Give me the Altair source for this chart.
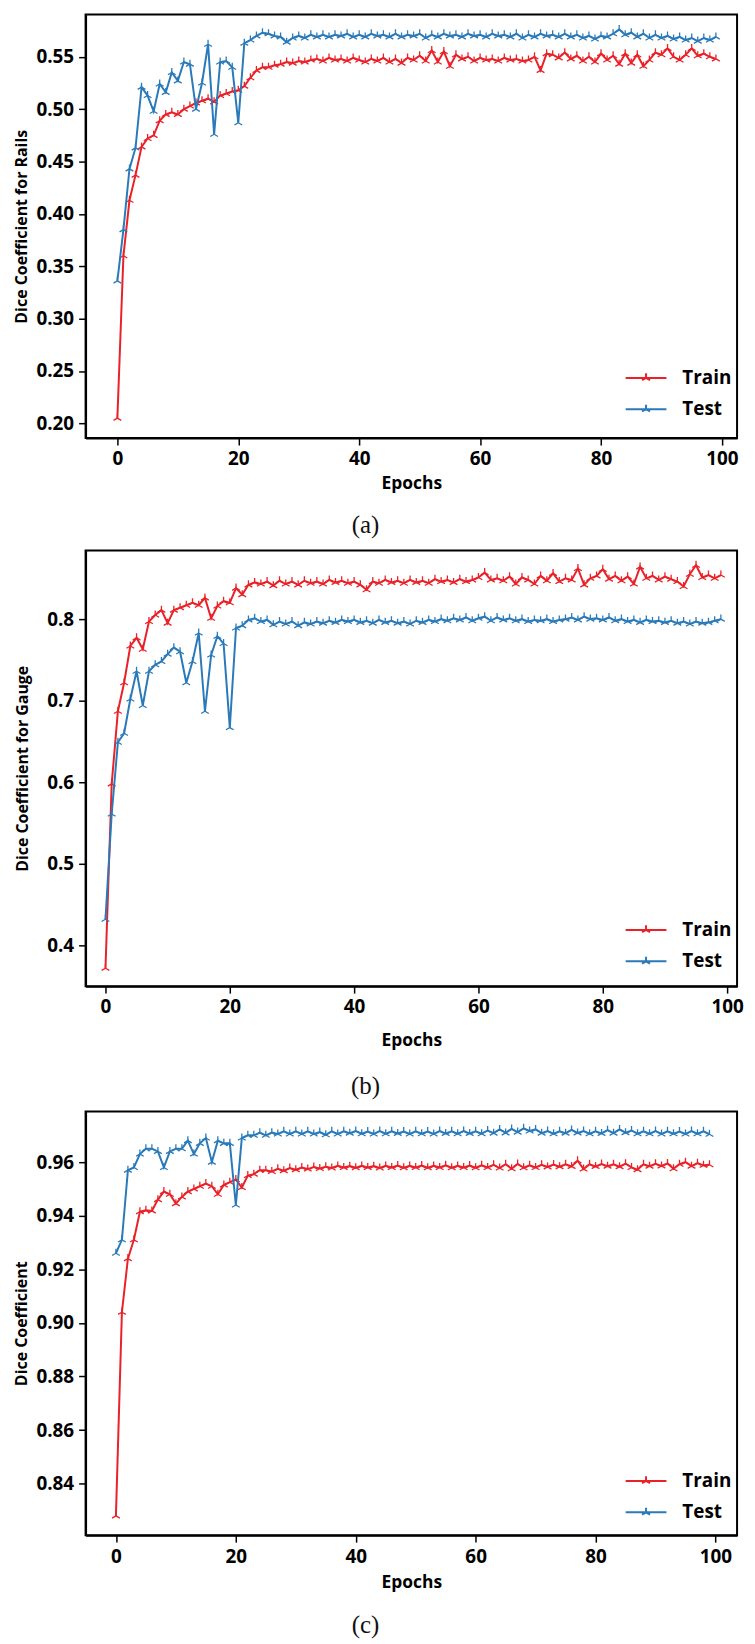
import altair as alt
import pandas as pd

epochs = list(range(100))

rails_train = [
    0.205, 0.360, 0.413, 0.437, 0.464, 0.472, 0.475, 0.489, 0.495, 0.497,
    0.495, 0.500, 0.503, 0.506, 0.508, 0.510, 0.507, 0.513, 0.515, 0.517,
    0.518, 0.522, 0.530, 0.537, 0.540, 0.540, 0.542, 0.543, 0.545, 0.544,
    0.546, 0.545, 0.547, 0.548, 0.546, 0.549, 0.547, 0.548, 0.546, 0.549,
    0.547, 0.545, 0.548, 0.546, 0.549, 0.545, 0.548, 0.544, 0.549, 0.547,
    0.551, 0.546, 0.556, 0.545, 0.555, 0.541, 0.552, 0.548, 0.550, 0.546,
    0.549, 0.547, 0.548, 0.546, 0.549, 0.547, 0.548, 0.546, 0.547, 0.550,
    0.537, 0.553, 0.552, 0.549, 0.554, 0.548, 0.551, 0.546, 0.550, 0.545,
    0.553, 0.547, 0.551, 0.543, 0.553, 0.544, 0.552, 0.541, 0.547, 0.554,
    0.552, 0.558, 0.550, 0.547, 0.552, 0.558, 0.551, 0.553, 0.550, 0.548,
]
rails_test = [
    0.336, 0.385, 0.443, 0.463, 0.521, 0.513, 0.498, 0.524, 0.516, 0.535,
    0.527, 0.545, 0.543, 0.500, 0.525, 0.562, 0.476, 0.545, 0.546, 0.540,
    0.487, 0.563, 0.566, 0.570, 0.573, 0.572, 0.570, 0.569, 0.564, 0.568,
    0.570, 0.568, 0.571, 0.569, 0.571, 0.569, 0.571, 0.570, 0.572, 0.569,
    0.571, 0.569, 0.572, 0.570, 0.571, 0.569, 0.572, 0.569, 0.571, 0.570,
    0.572, 0.568, 0.571, 0.569, 0.572, 0.570, 0.571, 0.569, 0.572, 0.570,
    0.571, 0.569, 0.572, 0.570, 0.571, 0.569, 0.572, 0.568, 0.571, 0.569,
    0.572, 0.570, 0.571, 0.569, 0.572, 0.569, 0.571, 0.568, 0.570, 0.567,
    0.570, 0.569, 0.572, 0.576, 0.571, 0.573, 0.569, 0.572, 0.568, 0.571,
    0.568, 0.570, 0.567, 0.569, 0.566, 0.568, 0.565, 0.568, 0.566, 0.569,
]
gauge_train = [
    0.372, 0.598, 0.687, 0.722, 0.767, 0.777, 0.763, 0.797, 0.805, 0.811,
    0.795, 0.811, 0.814, 0.817, 0.820, 0.817, 0.826, 0.801, 0.816, 0.822,
    0.820, 0.838, 0.830, 0.842, 0.845, 0.843, 0.846, 0.841, 0.847, 0.843,
    0.846, 0.842, 0.847, 0.844, 0.846, 0.843, 0.848, 0.845, 0.847, 0.844,
    0.846, 0.842, 0.836, 0.846, 0.844, 0.848, 0.845, 0.847, 0.844, 0.848,
    0.845, 0.847, 0.844, 0.849, 0.846, 0.848, 0.845, 0.849, 0.846, 0.848,
    0.851, 0.857, 0.848, 0.850, 0.847, 0.852, 0.843, 0.851, 0.848, 0.843,
    0.853, 0.847, 0.856, 0.846, 0.850, 0.848, 0.862, 0.842, 0.850, 0.853,
    0.861, 0.849, 0.853, 0.847, 0.852, 0.843, 0.864, 0.850, 0.853, 0.848,
    0.852, 0.849, 0.846, 0.840, 0.855, 0.866, 0.851, 0.854, 0.850, 0.854,
]
gauge_test = [
    0.432, 0.561, 0.649, 0.660, 0.702, 0.736, 0.694, 0.736, 0.744, 0.748,
    0.757, 0.765, 0.760, 0.722, 0.748, 0.783, 0.687, 0.756, 0.779, 0.770,
    0.667, 0.789, 0.792, 0.799, 0.801, 0.797, 0.799, 0.793, 0.797, 0.794,
    0.797, 0.792, 0.796, 0.794, 0.797, 0.795, 0.798, 0.796, 0.799, 0.797,
    0.799, 0.796, 0.798, 0.795, 0.799, 0.796, 0.798, 0.795, 0.797, 0.794,
    0.798, 0.796, 0.799, 0.797, 0.800, 0.798, 0.801, 0.799, 0.802, 0.798,
    0.801, 0.803, 0.798, 0.802, 0.799, 0.801, 0.798, 0.800, 0.797, 0.799,
    0.798, 0.800, 0.797, 0.799, 0.800, 0.802, 0.799, 0.803, 0.800, 0.801,
    0.799, 0.802, 0.798, 0.800, 0.797, 0.799, 0.796, 0.799, 0.797, 0.798,
    0.796, 0.798, 0.795, 0.797, 0.794, 0.797, 0.795, 0.796, 0.798, 0.800,
]
overall_train = [
    0.828, 0.904, 0.924, 0.931, 0.9415, 0.942, 0.9418, 0.946, 0.949, 0.948,
    0.9445, 0.947, 0.949, 0.950, 0.951, 0.952, 0.951, 0.948, 0.9515, 0.9525,
    0.9535, 0.9505, 0.955, 0.9555, 0.957, 0.957, 0.9565, 0.9575, 0.9568, 0.9578,
    0.9572, 0.9580, 0.9574, 0.9582, 0.9576, 0.9583, 0.9578, 0.9586, 0.9580, 0.9585,
    0.9579, 0.9586, 0.9580, 0.9585, 0.9578, 0.9586, 0.9580, 0.9587, 0.9579, 0.9586,
    0.9580, 0.9587, 0.9579, 0.9586, 0.9580, 0.9588, 0.9579, 0.9586, 0.9580, 0.9587,
    0.9579, 0.9588, 0.9580, 0.9590, 0.9578, 0.9592, 0.9575, 0.9593, 0.9579, 0.9588,
    0.9580, 0.9590, 0.9582, 0.9591, 0.9583, 0.9592, 0.9584, 0.9605, 0.9574, 0.9592,
    0.9584, 0.9593, 0.9585, 0.9592, 0.9583, 0.9594, 0.9580, 0.9572, 0.9592, 0.9585,
    0.9594, 0.9586, 0.9595, 0.9575, 0.9592, 0.9600, 0.9585, 0.9596, 0.9588, 0.9590,
]
overall_test = [
    0.926, 0.931, 0.957, 0.958, 0.963, 0.965, 0.965, 0.964, 0.958, 0.964,
    0.965, 0.965, 0.968, 0.963, 0.967, 0.969, 0.960, 0.968, 0.967, 0.967,
    0.944, 0.969, 0.970, 0.970, 0.971, 0.970, 0.971, 0.9705, 0.9715, 0.9705,
    0.9715, 0.9705, 0.9715, 0.9705, 0.9712, 0.9702, 0.9715, 0.9705, 0.9715, 0.9708,
    0.9716, 0.9706, 0.9714, 0.9705, 0.9716, 0.9706, 0.9715, 0.9707, 0.9714, 0.9705,
    0.9715, 0.9706, 0.9714, 0.9705, 0.9716, 0.9707, 0.9715, 0.9706, 0.9716, 0.9707,
    0.9715, 0.9706, 0.9718, 0.9708, 0.9722, 0.9709, 0.9724, 0.9712, 0.9726, 0.9716,
    0.9722, 0.9708, 0.9716, 0.9706, 0.9715, 0.9708, 0.9720, 0.9709, 0.9716, 0.9706,
    0.9715, 0.9707, 0.9719, 0.9708, 0.9722, 0.9710, 0.9718, 0.9706, 0.9715, 0.9706,
    0.9716, 0.9705, 0.9715, 0.9706, 0.9714, 0.9705, 0.9716, 0.9706, 0.9715, 0.9704,
]

series_names = ["Train", "Test"]
series_colors = ["#ea2128", "#2a7ab9"]
x_ticks = [0, 20, 40, 60, 80, 100]
rails_ticks = [0.20, 0.25, 0.30, 0.35, 0.40, 0.45, 0.50, 0.55]
gauge_ticks = [0.4, 0.5, 0.6, 0.7, 0.8]
overall_ticks = [0.84, 0.86, 0.88, 0.90, 0.92, 0.94, 0.96]

FONT = "Open Sans"
TRI = "M0,0L0,-1M0,0L-0.866,0.5M0,0L0.866,0.5"
LEG = "M-2,0L2,0M0,0L0,-0.45M0,0L-0.39,0.22M0,0L0.39,0.22"
PLOT_W = 655


def panel(train, test, ylabel, ydom, yticks, yfmt, xdom, caption, title_pad,
          h, leg_y, cap_offset, xtitle_pad):
    df = pd.DataFrame({
        "Epoch": epochs + epochs,
        "Value": train + test,
        "Series": ["Train"] * len(train) + ["Test"] * len(test),
    })
    base = alt.Chart(df)
    xenc = alt.X("Epoch:Q",
                 scale=alt.Scale(domain=xdom, nice=False, zero=False),
                 axis=alt.Axis(values=x_ticks, title="Epochs", format="d",
                               titlePadding=xtitle_pad))
    yenc = alt.Y("Value:Q",
                 scale=alt.Scale(domain=ydom, nice=False, zero=False),
                 axis=alt.Axis(values=yticks, format=yfmt, title=ylabel,
                               titlePadding=title_pad, titleFontSize=16))
    cscale = alt.Scale(domain=series_names, range=series_colors)
    legend = alt.Legend(title=None, orient="none", legendX=PLOT_W - 103,
                        legendY=leg_y, padding=0,
                        symbolType=LEG, symbolSize=420, symbolStrokeWidth=2,
                        labelFont=FONT, labelFontSize=19, labelFontWeight="bold",
                        labelColor="black", labelOffset=25, rowPadding=9.5)
    layers = []
    for name in series_names:
        sub = base.transform_filter(alt.datum.Series == name)
        layers.append(sub.mark_line(strokeWidth=2, clip=True).encode(
            x=xenc, y=yenc,
            color=alt.Color("Series:N", scale=cscale, legend=legend)))
        layers.append(sub.mark_point(shape=TRI, filled=False, size=81,
                                     strokeWidth=1.3, opacity=1, clip=True).encode(
            x=xenc, y=yenc,
            color=alt.Color("Series:N", scale=cscale, legend=None)))
    return alt.layer(*layers).properties(
        width=PLOT_W, height=h,
        title=alt.TitleParams(caption, orient="bottom", anchor="middle", dx=-46,
                              offset=cap_offset, font="Liberation Serif",
                              fontSize=25, fontWeight="normal", color="#111111"))


a = panel(rails_train, rails_test, "Dice Coefficient for Rails",
          [0.1859, 0.5905], rails_ticks, ".2f", [-5.26, 102.5], "(a)", 6,
          426, 354, 21, 6)
b = panel(gauge_train, gauge_test, "Dice Coefficient for Gauge",
          [0.3500, 0.8841], gauge_ticks, ".1f", [-3.2, 101.6], "(b)", 16,
          438, 370, 25, 15)
c = panel(overall_train, overall_test, "Dice Coefficient",
          [0.8208, 0.9789], overall_ticks, ".2f", [-5.06, 103.6], "(c)", 6,
          426, 360, 22, 8)

chart = alt.vconcat(a, b, c, spacing=10).resolve_scale(
    color="independent").resolve_legend(color="independent").properties(
    padding={"left": 4, "top": 1, "right": 2, "bottom": 0}
).configure_view(
    stroke="black", strokeWidth=2
).configure_axis(
    domainColor="black", domainWidth=2, tickColor="black", tickWidth=1.5,
    tickSize=7, labelFont=FONT, labelFontSize=19, labelFontWeight="bold",
    labelColor="black", labelPadding=5, titleFont=FONT, titleFontSize=17.5,
    titleFontWeight="bold", titleColor="black", grid=False
)

chart.save("out.html", embed_options={"renderer": "svg", "actions": False})
